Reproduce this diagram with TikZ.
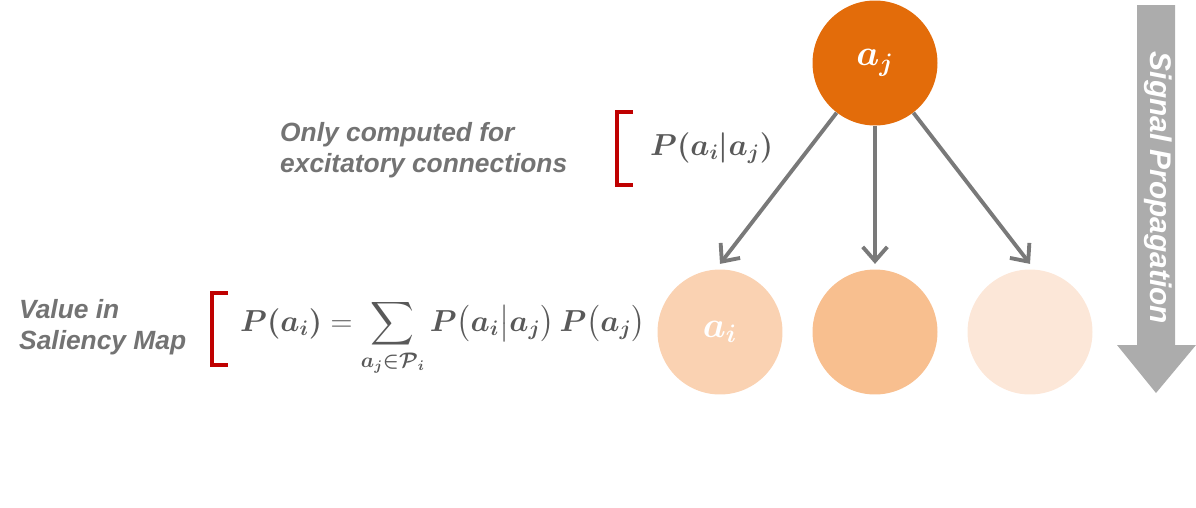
\documentclass[tikz,border=0pt]{standalone}
\usepackage{fontspec}
\setsansfont{Liberation Sans}
\usepackage{amsmath,bm}
\usetikzlibrary{arrows.meta}
\begin{document}
\begin{tikzpicture}[x=0.02cm,y=-0.02cm,
  circ/.style={circle,minimum size=2.5cm,inner sep=0pt},
  conn/.style={draw=gray!95!black,line width=2.2pt,-{Straight Barb[length=8pt,width=14pt,line width=2.2pt]}},
  lbl/.style={font=\sffamily\bfseries\itshape\fontsize{15}{18}\selectfont,text=gray!90!black,align=left},
  brk/.style={draw=red!75!black,line width=1.8pt},
  fml/.style={font=\fontsize{16.5}{19}\selectfont,text=gray!70!black}]
\useasboundingbox (0,0) rectangle (1196,507);
\node[circ,fill={rgb,255:red,227;green,108;blue,10}] (aj) at (875,63) {\textcolor{white}{\fontsize{22}{24}\selectfont$\bm{a_j}$}};
\node[circ,fill={rgb,255:red,250;green,210;blue,178}] (ai) at (720,332) {\textcolor{white}{\fontsize{22}{24}\selectfont$\bm{a_i}$}};
\node[circ,fill={rgb,255:red,248;green,191;blue,143}] (b2) at (875,332) {};
\node[circ,fill={rgb,255:red,252;green,231;blue,216}] (b3) at (1030,332) {};
\draw[conn] (aj) -- ([yshift=3pt]ai.north);
\draw[conn] (aj) -- ([yshift=3pt]b2.north);
\draw[conn] (aj) -- ([yshift=3pt]b3.north);
\fill[gray!65] (1137,5) -- (1175,5) -- (1175,345) -- (1196,345) -- (1156,393) -- (1117,345) -- (1137,345) -- cycle;
\node[rotate=-90,font=\sffamily\bfseries\itshape\fontsize{17}{19}\selectfont,text=white] (sp) at (1158,188) {Signal Propagation};
\node[lbl,anchor=west] (t1) at (274,150) {Only computed for\\excitatory connections};
\draw[brk] (633,112) -- (617,112) -- (617,185) -- (633,185);
\node[fml,anchor=west] (f1) at (644,148) {$\bm{P(a_i|a_j)}$};
\node[lbl,anchor=west] (t2) at (13,327) {Value in\\Saliency Map};
\draw[brk] (228,293) -- (212,293) -- (212,365) -- (228,365);
\node[fml,anchor=west] (f2) at (234,338) {$\bm{P(a_i)}=\displaystyle\sum_{\bm{a_j\in\mathcal{P}_i}}\bm{P\big(a_i\big|a_j\big)\,P\big(a_j\big)}$};
\end{tikzpicture}
\end{document}
